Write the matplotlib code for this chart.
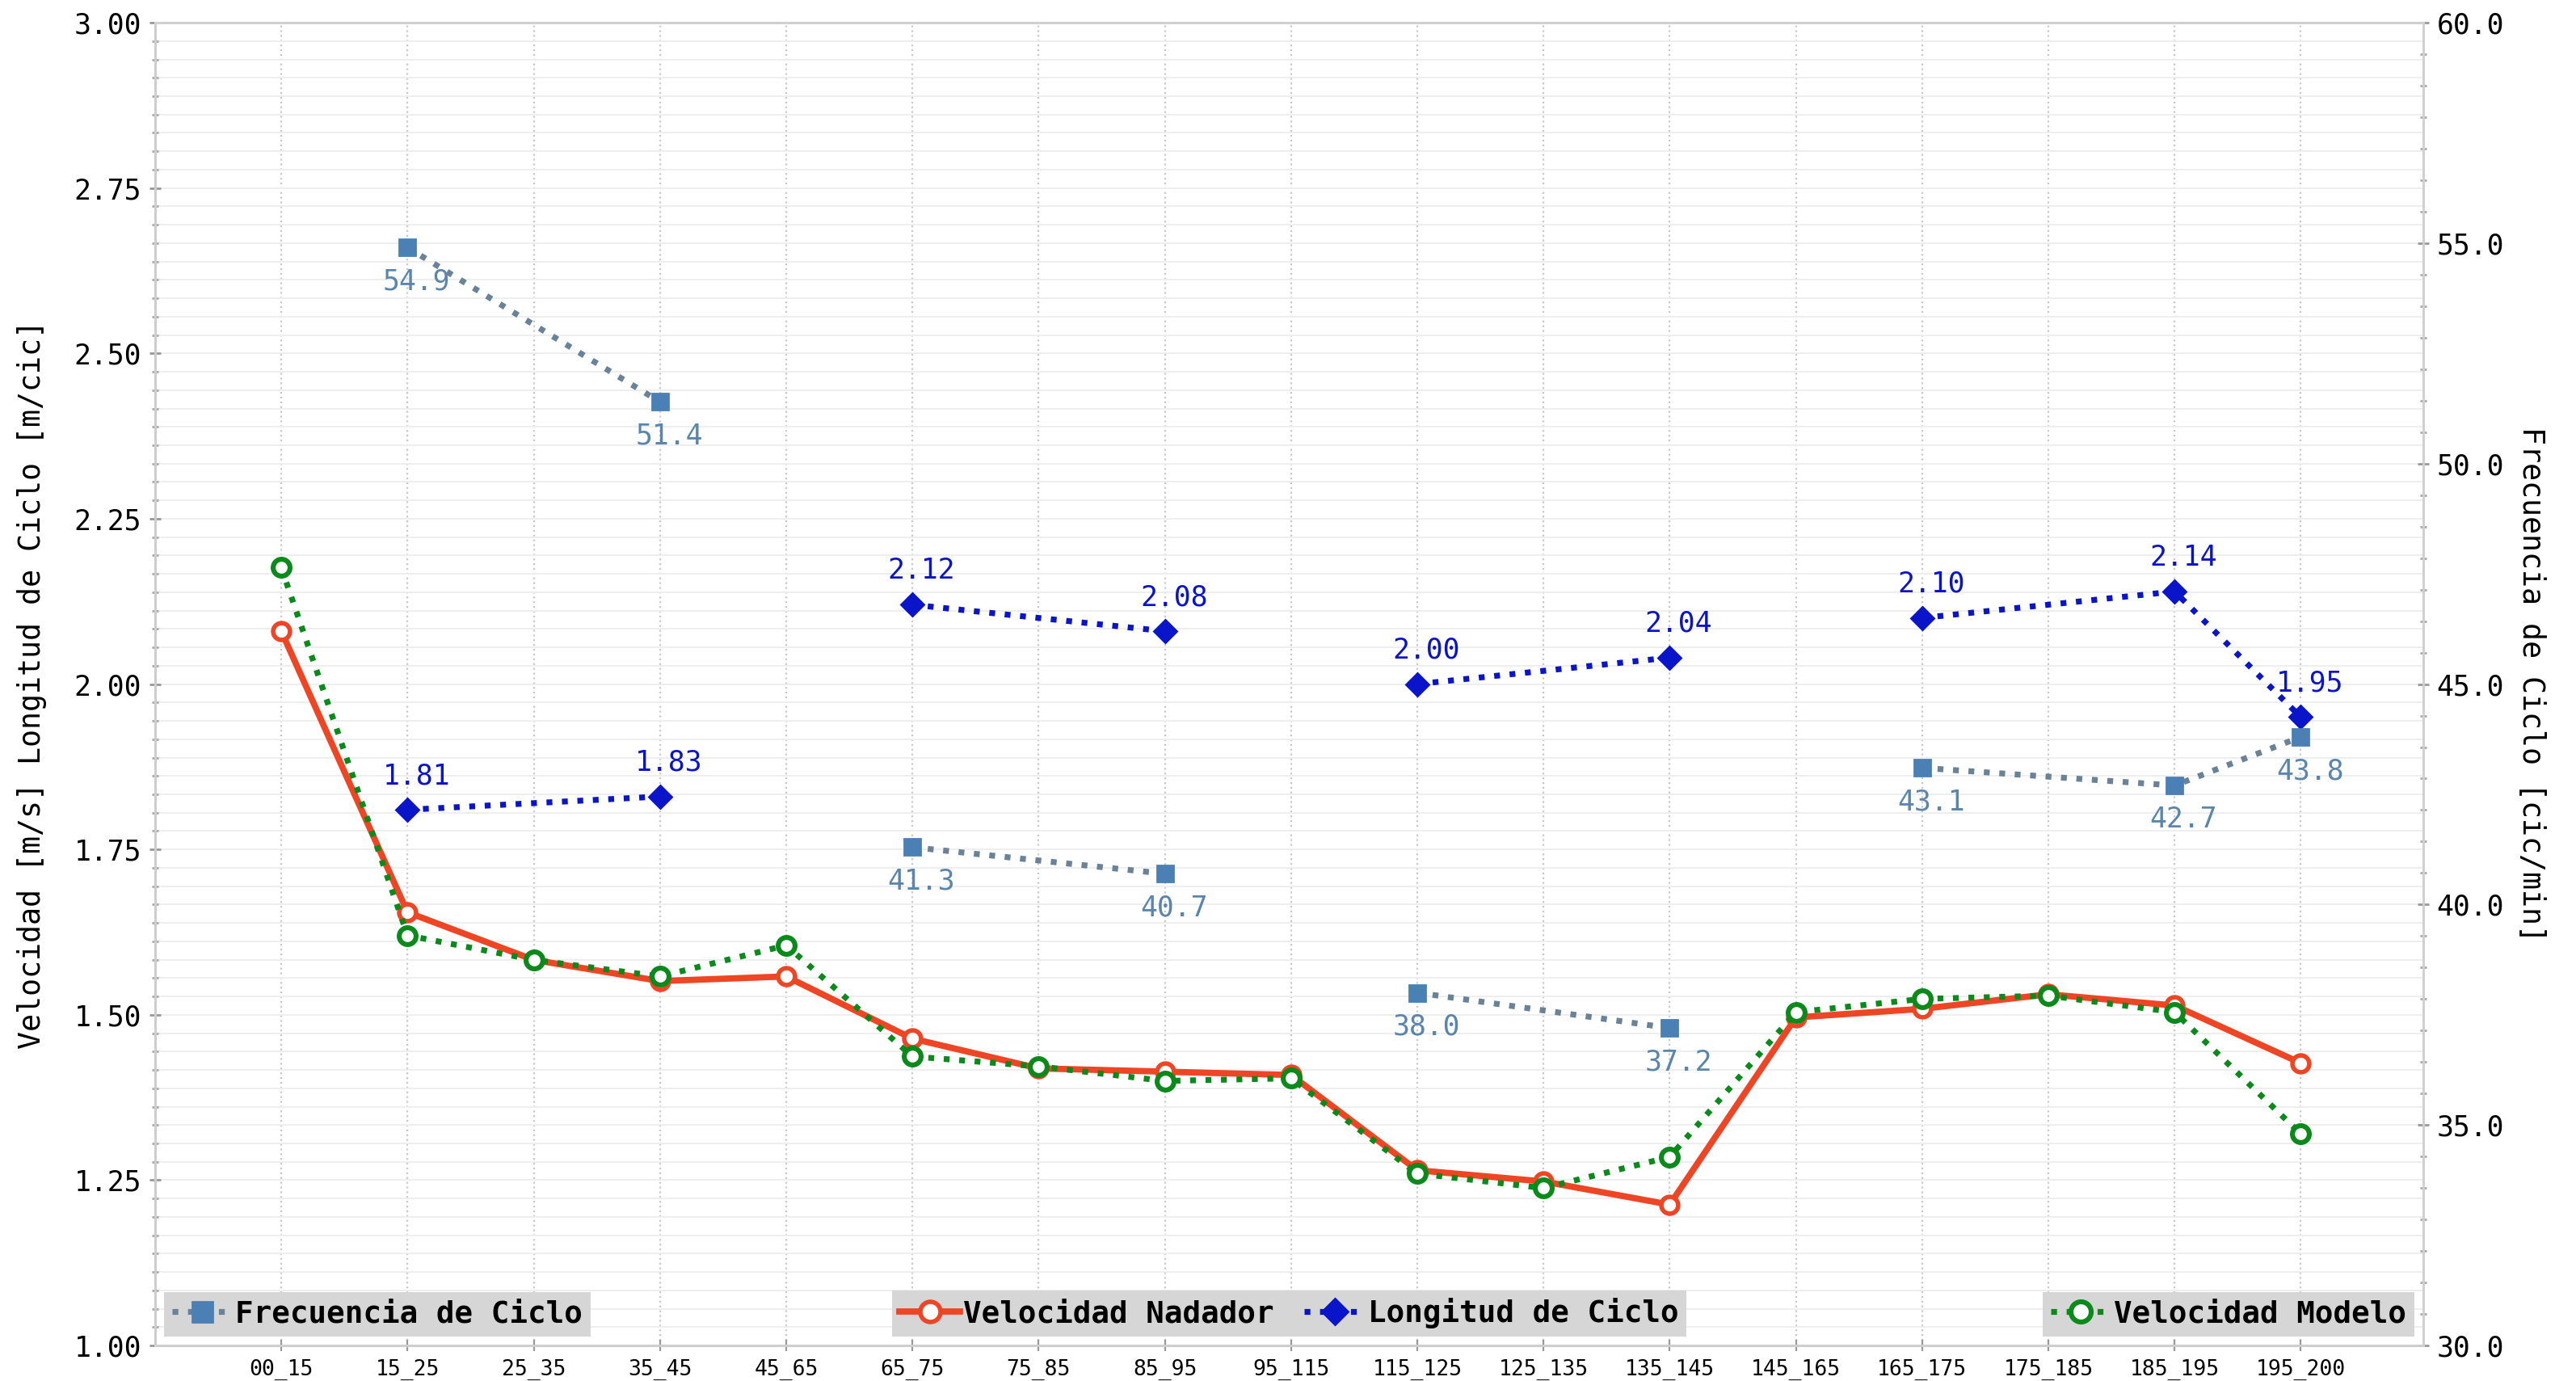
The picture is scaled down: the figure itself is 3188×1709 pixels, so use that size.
import numpy as np
import matplotlib
matplotlib.use("Agg")
import matplotlib.pyplot as plt
from matplotlib.ticker import AutoMinorLocator, MultipleLocator, FormatStrFormatter

plt.rcParams['font.family'] = ['DejaVu Sans Mono']

categories = ["00_15", "15_25", "25_35", "35_45", "45_65", "65_75", "75_85", "85_95",
              "95_115", "115_125", "125_135", "135_145", "145_165", "165_175",
              "175_185", "185_195", "195_200"]
vel_nadador = [2.08, 1.655, 1.583, 1.551, 1.558, 1.464, 1.419, 1.414, 1.409,
               1.265, 1.248, 1.213, 1.496, 1.509, 1.531, 1.514, 1.427]
vel_modelo = [2.176, 1.620, 1.583, 1.558, 1.605, 1.437, 1.422, 1.400, 1.404,
              1.260, 1.238, 1.285, 1.504, 1.524, 1.529, 1.504, 1.320]
nan = np.nan
long_ciclo = [nan, 1.81, nan, 1.83, nan, 2.12, nan, 2.08, nan,
              2.00, nan, 2.04, nan, 2.10, nan, 2.14, 1.95]
frec_ciclo = [nan, 54.9, nan, 51.4, nan, 41.3, nan, 40.7, nan,
              38.0, nan, 37.2, nan, 43.1, nan, 42.7, 43.8]

x = np.arange(len(categories))

fig = plt.figure(figsize=(15.94, 8.545), dpi=200)
ax = fig.add_axes([0.0602, 0.0257, 0.8805, 0.9579])
ax2 = ax.twinx()

red = '#ee4524'
green = '#0a8a1a'
blue = '#0a14c8'
steel = '#4a80b4'
steel_line = '#6a8298'
steel_txt = '#5a85ad'

# groups of connected points for the cycle data
pairs = [[1, 3], [5, 7], [9, 11], [13, 15, 16]]

l_nad, = ax.plot(x, vel_nadador, '-', color=red, lw=2.8, marker='o', ms=7.5,
                 mfc='white', mec=red, mew=2.0, zorder=4, label='Velocidad Nadador')
l_mod, = ax.plot(x, vel_modelo, ':', color=green, lw=2.6, marker='o', ms=7.5,
                 mfc='white', mec=green, mew=2.2, zorder=5, label='Velocidad Modelo')

lc = np.array(long_ciclo)
fc = np.array(frec_ciclo)
l_long = None
for p in pairs:
    h, = ax.plot(x[p], lc[p], ':', color=blue, lw=2.6, marker='D', ms=7,
                 mfc=blue, mec=blue, zorder=6, label='Longitud de Ciclo')
    if l_long is None:
        l_long = h
for i in range(len(categories)):
    if not np.isnan(lc[i]):
        ax.annotate(f"{lc[i]:.2f}", (x[i], lc[i]), xytext=(4, 9), textcoords='offset points',
                    ha='center', va='bottom', fontsize=12.5, color=blue, zorder=7)

l_frec = None
for p in pairs:
    h, = ax2.plot(x[p], fc[p], ':', color=steel_line, lw=2.6, marker='s', ms=7.5,
                  mfc=steel, mec=steel, zorder=6, label='Frecuencia de Ciclo')
    if l_frec is None:
        l_frec = h
for i in range(len(categories)):
    if not np.isnan(fc[i]):
        ax2.annotate(f"{fc[i]:.1f}", (x[i], fc[i]), xytext=(4, -9), textcoords='offset points',
                     ha='center', va='top', fontsize=12.5, color=steel_txt, zorder=7)

ax.set_xlim(-1.0, 16.97)
ax.set_ylim(1.0, 3.0)
ax2.set_ylim(30, 60)
ax.set_xticks(x)
ax.set_xticklabels(categories, fontsize=9.5)
ax.yaxis.set_major_locator(MultipleLocator(0.25))
ax.yaxis.set_minor_locator(AutoMinorLocator(9))
ax.yaxis.set_major_formatter(FormatStrFormatter('%.2f'))
ax2.yaxis.set_major_locator(MultipleLocator(5))
ax2.yaxis.set_minor_locator(AutoMinorLocator(7))
ax2.yaxis.set_major_formatter(FormatStrFormatter('%.1f'))

for a in (ax, ax2):
    a.tick_params(axis='y', labelsize=12.5, colors='#999999', labelcolor='black',
                  direction='inout', length=5, width=1)
    a.tick_params(axis='y', which='minor', colors='#aaaaaa', direction='inout', length=3, width=1)
    for s in a.spines.values():
        s.set_color('#d0d0d0')
        s.set_linewidth(1.0)
ax.tick_params(axis='x', colors='#999999', labelcolor='black', direction='inout', length=5)
ax.spines['left'].set_color('#aaaaaa')
ax.spines['bottom'].set_color('#aaaaaa')

ax.grid(True, which='major', axis='x', color='#c8c8c8', ls=':', lw=0.8)
ax.grid(True, which='both', axis='y', color='#eeeeee', ls='-', lw=0.7)
ax.set_axisbelow(True)

ax.set_ylabel('Velocidad [m/s] Longitud de Ciclo [m/cic]', fontsize=13.2, labelpad=12)
ax2.set_ylabel('Frecuencia de Ciclo [cic/min]', fontsize=13.2, rotation=270, labelpad=19)

leg_kw = dict(prop={'size': 13.5, 'weight': 'bold'}, frameon=True, fancybox=False,
              borderaxespad=0.3, handlelength=2.0, handletextpad=0.1, borderpad=0.25,
              columnspacing=1.0, markerscale=1.2)
leg1 = ax2.legend([l_frec], ['Frecuencia de Ciclo'], loc='lower left', **leg_kw)
leg2 = ax2.legend([l_nad, l_long], ['Velocidad Nadador', 'Longitud de Ciclo'], loc='lower center',
                  ncol=2, **leg_kw)
leg3 = ax2.legend([l_mod], ['Velocidad Modelo'], loc='lower right', **leg_kw)
for lg in (leg1, leg2, leg3):
    fr = lg.get_frame()
    fr.set_facecolor('#d6d6d6')
    fr.set_edgecolor('none')
    fr.set_alpha(1.0)
    lg.set_zorder(10)
ax2.add_artist(leg1)
ax2.add_artist(leg2)

fig.savefig('out.png', dpi=200)
